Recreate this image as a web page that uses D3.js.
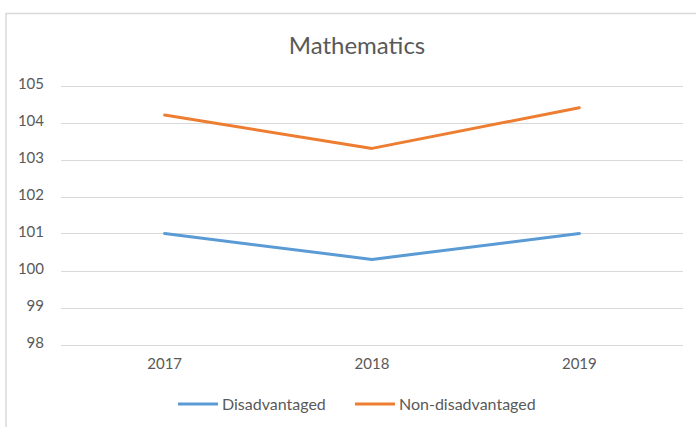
<!DOCTYPE html>
<html><head><meta charset="utf-8">
<script src="https://cdn.jsdelivr.net/npm/d3@7"></script>
<style>body{margin:0;background:#fff;}svg{display:block;}</style>
</head><body>
<svg id="c" width="696" height="427"></svg>
<script>
const categories = ["2017", "2018", "2019"];
const disadvantaged = [101.0, 100.3, 101.0];
const nonDisadvantaged = [104.2, 103.3, 104.4];
const yTicks = [98, 99, 100, 101, 102, 103, 104, 105];
const seriesNames = ["Disadvantaged", "Non-disadvantaged"];
const colors = ["#5b9bd5", "#ed7d31"];

const svg = d3.select("#c");
const font = "Lato, 'Open Sans', sans-serif";
// frame
svg.append("rect").attr("x", 6).attr("y", 13.5).attr("width", 720).attr("height", 440)
  .attr("fill", "#fff").attr("stroke", "#d9d9d9").attr("stroke-width", 1.5);

const x = d3.scaleBand().domain(categories).range([61, 683]);
const y = d3.scaleLinear().domain([98, 105]).range([344.5, 85.5]);

// gridlines
svg.append("g").selectAll("line").data(yTicks).join("line")
  .attr("x1", 61).attr("x2", 683)
  .attr("y1", d => Math.round(y(d)) + 0.5).attr("y2", d => Math.round(y(d)) + 0.5)
  .attr("stroke", "#d9d9d9").attr("stroke-width", 1);

// y axis labels
const yAxis = d3.axisLeft(y).tickValues(yTicks).tickFormat(d3.format("d")).tickSize(0).tickPadding(0);
const gy = svg.append("g").attr("transform", "translate(44,-2)").call(yAxis);
gy.select(".domain").remove();
gy.selectAll("text").attr("font-family", font).attr("font-size", 15).attr("fill", "#595959");

// x axis labels
const xAxis = d3.axisBottom(x).tickSize(0).tickPadding(0);
const gx = svg.append("g").attr("transform", "translate(0,358)").call(xAxis);
gx.select(".domain").remove();
gx.selectAll("text").attr("font-family", font).attr("font-size", 15).attr("fill", "#595959");

// title
svg.append("text").attr("x", 357).attr("y", 54).attr("text-anchor", "middle")
  .attr("font-family", font).attr("font-size", 24).attr("fill", "#595959").text("Mathematics");

const line = d3.line().x((d, i) => x(categories[i]) + x.bandwidth() / 2).y(d => y(d));
[disadvantaged, nonDisadvantaged].forEach((s, k) => {
  svg.append("path").datum(s).attr("d", line).attr("fill", "none")
    .attr("stroke", colors[k]).attr("stroke-width", 3).attr("stroke-linecap", "round").attr("stroke-linejoin", "round");
});

// legend
const legendX = [178, 355];
seriesNames.forEach((n, k) => {
  svg.append("line").attr("x1", legendX[k]).attr("x2", legendX[k] + 40)
    .attr("y1", 404).attr("y2", 404).attr("stroke", colors[k]).attr("stroke-width", 3);
  svg.append("text").attr("x", legendX[k] + 44).attr("y", 410)
    .attr("font-family", font).attr("font-size", 16).attr("fill", "#595959").text(n);
});
</script>
</body></html>
